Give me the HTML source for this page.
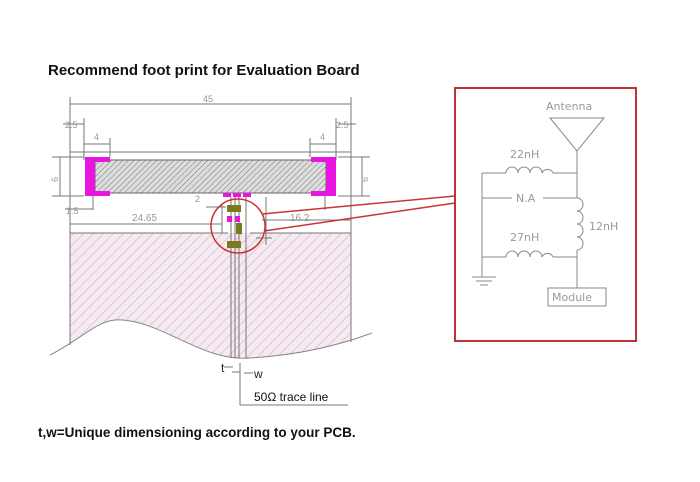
<!DOCTYPE html>
<html><head><style>
html,body{margin:0;padding:0;background:#fff;width:700px;height:482px;overflow:hidden}
svg{display:block}
</style></head><body>
<svg width="700" height="482" viewBox="0 0 700 482" xmlns="http://www.w3.org/2000/svg" font-family="Liberation Sans, sans-serif">
<defs>
<pattern id="h1" width="4" height="4" patternUnits="userSpaceOnUse" patternTransform="rotate(45)">
<rect width="4" height="4" fill="#ddd"/><line x1="0" y1="0" x2="0" y2="4" stroke="#777" stroke-width="1"/></pattern>
<pattern id="h2" width="7" height="7" patternUnits="userSpaceOnUse" patternTransform="rotate(45)">
<rect width="7" height="7" fill="#f5eaf2"/><line x1="0" y1="0" x2="0" y2="7" stroke="#cfb0c9" stroke-width="1.2"/></pattern>
<clipPath id="wv"><path d="M40 360 C80 340 95 322 115 320 C160 318 200 362 250 358 C300 355 340 345 372 333 V200 H40 Z"/></clipPath>
</defs>
<text x="48" y="75" font-size="15" font-weight="bold" fill="#111">Recommend foot print for Evaluation Board</text>
<text x="38" y="437" font-size="13.5" font-weight="bold" fill="#111">t,w=Unique dimensioning according to your PCB.</text>

<!-- ground plane -->
<rect x="70" y="233" width="281" height="140" fill="url(#h2)" clip-path="url(#wv)"/>
<path d="M50 355 C80 340 95 322 115 320 C160 318 200 362 250 358 C300 355 340 345 372 333" fill="none" stroke="#888" stroke-width="1"/>
<g stroke="#777" stroke-width="1" fill="none">
<line x1="70" y1="152" x2="70" y2="345"/><line x1="351" y1="152" x2="351" y2="342"/>
<line x1="70" y1="152" x2="351" y2="152"/>
<line x1="70" y1="233" x2="228" y2="233"/><line x1="250" y1="233" x2="351" y2="233"/>
<line x1="70" y1="104" x2="351" y2="104"/>
<line x1="70" y1="97" x2="70" y2="152"/><line x1="351" y1="97" x2="351" y2="152"/>
<line x1="63" y1="124" x2="84" y2="124"/><line x1="338" y1="124" x2="356" y2="124"/>
<line x1="84" y1="118" x2="84" y2="160"/><line x1="110" y1="138" x2="110" y2="157"/>
<line x1="84" y1="144" x2="110" y2="144"/><line x1="310" y1="144" x2="336" y2="144"/>
<line x1="310" y1="138" x2="310" y2="157"/><line x1="336" y1="118" x2="336" y2="160"/>
<line x1="52" y1="157" x2="84" y2="157"/><line x1="52" y1="196" x2="84" y2="196"/>
<line x1="60" y1="157" x2="60" y2="196"/>
<line x1="338" y1="157" x2="370" y2="157"/><line x1="338" y1="196" x2="370" y2="196"/>
<line x1="362" y1="157" x2="362" y2="196"/>
<line x1="93" y1="196" x2="93" y2="210"/><line x1="65" y1="209" x2="93" y2="209"/>
<line x1="325" y1="196" x2="325" y2="210"/>
<line x1="70" y1="224" x2="222" y2="224"/><line x1="222" y1="205" x2="222" y2="233"/>
<line x1="206" y1="207" x2="226" y2="207"/>
<line x1="266" y1="197" x2="266" y2="245"/><line x1="262" y1="220" x2="351" y2="220"/>
<line x1="256" y1="238" x2="272" y2="238"/>
<line x1="231" y1="197" x2="231" y2="358"/><line x1="235" y1="197" x2="235" y2="358"/>
<line x1="239" y1="197" x2="239" y2="358"/><line x1="246" y1="197" x2="246" y2="358"/>
<line x1="240" y1="363" x2="240" y2="405"/><line x1="240" y1="405" x2="348" y2="405"/>
<line x1="224" y1="367" x2="233" y2="367"/><line x1="244" y1="373" x2="253" y2="373"/>
<line x1="232" y1="372" x2="240" y2="372"/>
</g>
<text x="203" y="102" font-size="9" fill="#999">45</text>
<text x="65" y="128" font-size="9" fill="#999">2.5</text>
<text x="336" y="128" font-size="9" fill="#999">2.5</text>
<text x="94" y="140" font-size="9" fill="#999">4</text>
<text x="320" y="140" font-size="9" fill="#999">4</text>
<text x="58" y="182" font-size="9" fill="#999" transform="rotate(-90 58 182)">6</text>
<text x="368" y="182" font-size="9" fill="#999" transform="rotate(-90 368 182)">6</text>
<text x="66" y="214" font-size="9" fill="#999">1.5</text>
<text x="132" y="221" font-size="10" fill="#999">24.65</text>
<text x="290" y="221" font-size="10" fill="#999">16.2</text>
<text x="195" y="202" font-size="9" fill="#999">2</text>
<!-- module -->
<rect x="95" y="160" width="231" height="33" fill="url(#h1)" stroke="#666"/>
<path d="M85 157 H110 V162 H95 V191 H110 V196 H85 Z" fill="#e815e0"/>
<path d="M336 157 H311 V162 H326 V191 H311 V196 H336 Z" fill="#e815e0"/>
<rect x="223" y="193" width="8" height="4" fill="#e815e0"/>
<rect x="233" y="193" width="8" height="4" fill="#e815e0"/>
<rect x="243" y="193" width="8" height="4" fill="#e815e0"/>
<rect x="227" y="205" width="14" height="7" fill="#7a7a1a"/>
<rect x="227" y="216" width="5" height="6" fill="#e815e0"/><rect x="235" y="216" width="5" height="6" fill="#e815e0"/>
<rect x="236" y="223" width="6" height="11" fill="#7a7a1a"/>
<rect x="227" y="241" width="14" height="7" fill="#7a7a1a"/>
<text x="221" y="372" font-size="12" fill="#222">t</text>
<text x="254" y="378" font-size="12" fill="#222">w</text>
<text x="254" y="401" font-size="12" fill="#111">50Ω trace line</text>
<!-- zoom circle -->
<circle cx="238" cy="226" r="27" fill="none" stroke="#c33" stroke-width="1.5"/>
<line x1="262" y1="214" x2="455" y2="196" stroke="#c33" stroke-width="1.5"/>
<line x1="264" y1="231" x2="455" y2="203" stroke="#c33" stroke-width="1.5"/>
<!-- box -->
<rect x="455" y="88" width="181" height="253" fill="#fff" stroke="#b33" stroke-width="2"/>
<g stroke="#888" stroke-width="1" fill="none">
<path d="M550 118 H604 L577 151 Z"/>
<line x1="577" y1="151" x2="577" y2="198"/>
<line x1="577" y1="250" x2="577" y2="288"/>
<line x1="482" y1="173" x2="482" y2="277"/>
<line x1="482" y1="173" x2="506" y2="173"/><line x1="553" y1="173" x2="577" y2="173"/>
<path d="M506 173 a6 6 0 0 1 12 0 a6 6 0 0 1 12 0 a6 6 0 0 1 12 0 a6 6 0 0 1 11 0"/>
<line x1="482" y1="198" x2="512" y2="198"/><line x1="543" y1="198" x2="577" y2="198"/>
<path d="M577 198 a6 6.5 0 0 1 0 13 a6 6.5 0 0 1 0 13 a6 6.5 0 0 1 0 13 a6 6.5 0 0 1 0 13"/>
<line x1="482" y1="257" x2="506" y2="257"/><line x1="553" y1="257" x2="577" y2="257"/>
<path d="M506 257 a6 6 0 0 1 12 0 a6 6 0 0 1 12 0 a6 6 0 0 1 12 0 a6 6 0 0 1 11 0"/>
<line x1="472" y1="277" x2="496" y2="277"/><line x1="476" y1="281" x2="492" y2="281"/><line x1="480" y1="285" x2="488" y2="285"/>
<rect x="548" y="288" width="58" height="18"/>
</g>
<g font-family="DejaVu Sans, sans-serif" font-size="11" fill="#999">
<text x="546" y="110">Antenna</text>
<text x="510" y="158">22nH</text>
<text x="516" y="202">N.A</text>
<text x="589" y="230">12nH</text>
<text x="510" y="241">27nH</text>
<text x="552" y="301">Module</text>
</g>
</svg>
</body></html>
